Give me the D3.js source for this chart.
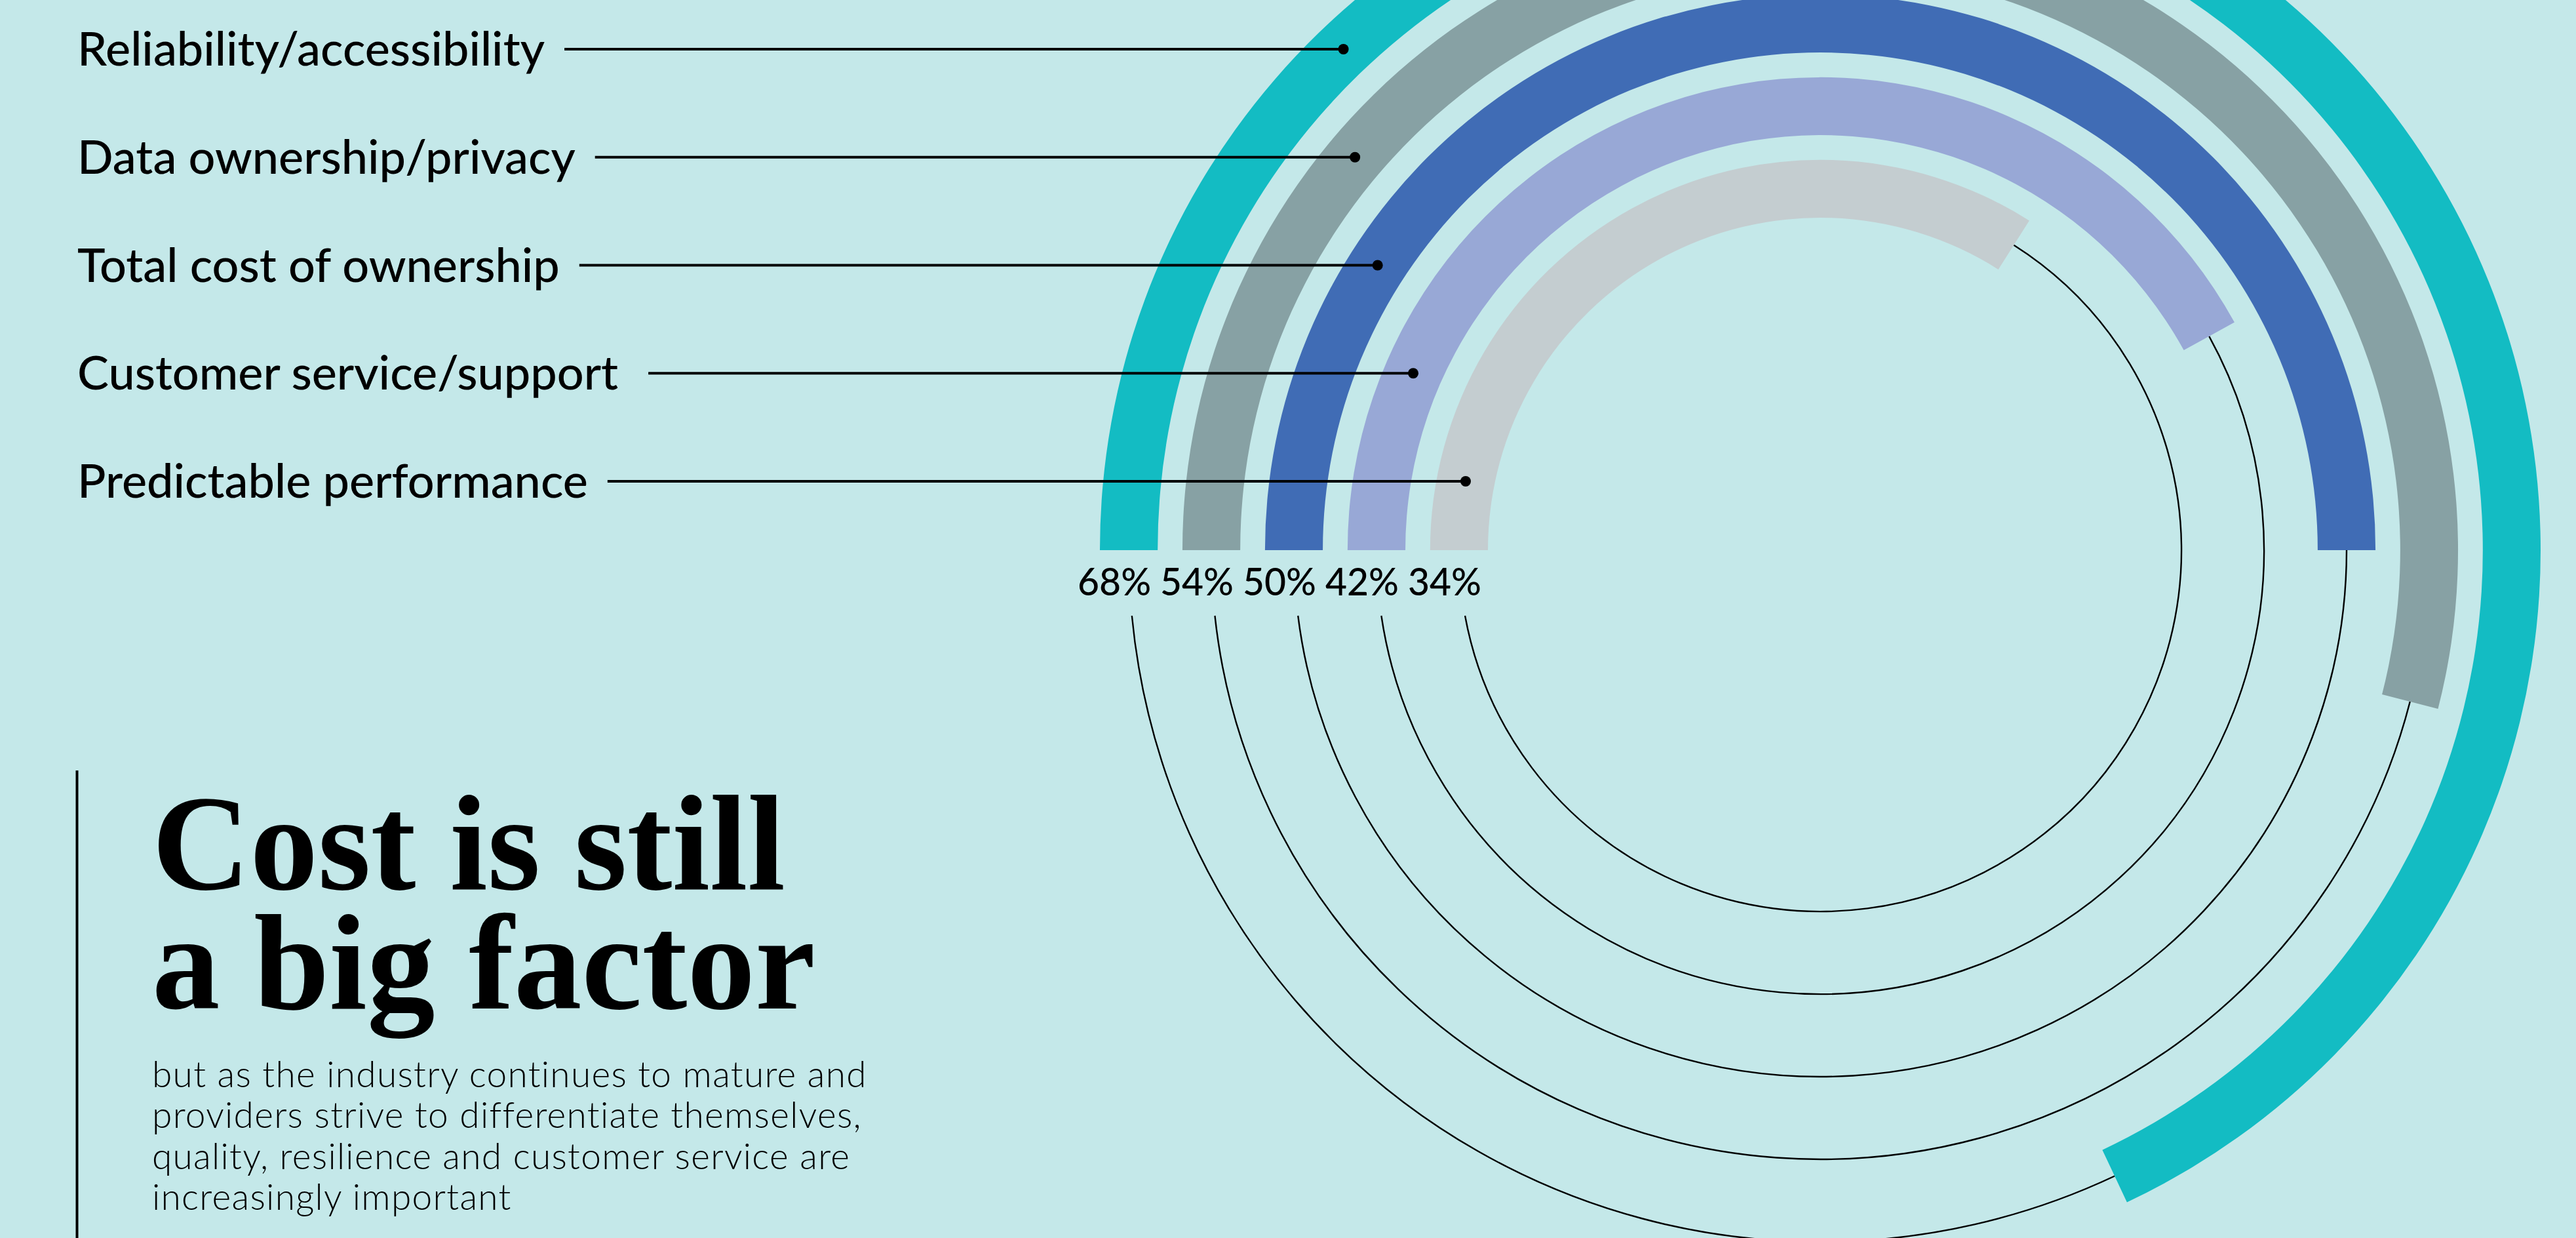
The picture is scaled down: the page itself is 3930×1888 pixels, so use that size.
<!DOCTYPE html>
<html><head><meta charset="utf-8">
<script src="https://cdn.jsdelivr.net/npm/d3@7"></script>
<style>
html,body{margin:0;padding:0;background:#c4e8e9;overflow:hidden;}
svg{display:block;}
</style></head><body>
<svg id="chart" width="3930" height="1888"></svg>
<script>
const categories = ["Reliability/accessibility","Data ownership/privacy","Total cost of ownership","Customer service/support","Predictable performance"];
const values = [68, 54, 50, 42, 34];
const valueLabels = ["68%","54%","50%","42%","34%"];
const colors = ["#13bcc3","#87a1a4","#406cb5","#98a8d6","#c4cdd0"];
const titleLines = ["Cost is still","a big factor"];
const subtitleLines = [
  "but as the industry continues to mature and",
  "providers strive to differentiate themselves,",
  "quality, resilience and customer service are",
  "increasingly important"
];

const W = 3930, H = 1888;
const cx = 2777, cy = 839;
const data = categories.map((c, i) => ({cat: c, value: values[i], label: valueLabels[i], color: colors[i]}));

const svg = d3.select("#chart");
svg.append("rect").attr("width", W).attr("height", H).attr("fill", "#c4e8e9");

const r = d3.scaleBand().domain(categories).range([1099, 507]).paddingInner(0.3).paddingOuter(0);
const bw = r.bandwidth();
const ang = d3.scaleLinear().domain([0, 100]).range([-Math.PI / 2, 1.5 * Math.PI]);
const labelY = d3.scalePoint().domain(categories).range([75, 734]);
const lineStartOffset = 100;

const g = svg.append("g").attr("transform", `translate(${cx},${cy})`);

// thin continuation circles
g.selectAll("path.track").data(data).join("path")
  .attr("class", "track")
  .attr("fill", "none").attr("stroke", "#000").attr("stroke-width", 2.4)
  .attr("d", d => {
    const rm = r(d.cat) + bw / 2;
    const a0 = ang(d.value);
    const a1 = 1.5 * Math.PI - Math.asin(lineStartOffset / rm);
    const p = d3.path();
    p.arc(0, 0, rm, a0 - Math.PI / 2, a1 - Math.PI / 2, false);
    return p.toString();
  });

// bars
const arc = d3.arc()
  .innerRadius(d => r(d.cat))
  .outerRadius(d => r(d.cat) + bw)
  .startAngle(ang(0))
  .endAngle(d => ang(d.value));
g.selectAll("path.bar").data(data).join("path")
  .attr("class", "bar").attr("fill", d => d.color).attr("d", arc);

// value labels
svg.selectAll("text.val").data(data).join("text")
  .attr("class", "val")
  .attr("x", d => cx - r(d.cat) - bw / 2 - 22)
  .attr("y", 908)
  .attr("text-anchor", "middle")
  .attr("font-family", "Lato, sans-serif").attr("font-weight", 500)
  .attr("font-size", 57).attr("fill", "#000")
  .text(d => d.label);

// category labels + leaders
const lg = svg.append("g");
data.forEach((d, i) => {
  const y = labelY(d.cat);
  const t = lg.append("text")
    .attr("x", 118).attr("y", y + 25)
    .attr("font-family", "Lato, sans-serif").attr("font-weight", 500)
    .attr("font-size", 72).attr("fill", "#000")
    .text(d.cat);
  const gap = d.cat.startsWith("Customer") ? 46 : 30;
  const x0 = 118 + t.node().getComputedTextLength() + gap;
  const rm = r(d.cat) + bw / 2;
  const dx = Math.sqrt(rm * rm - (cy - y) * (cy - y));
  const x1 = cx - dx;
  lg.append("line").attr("x1", x0).attr("x2", x1).attr("y1", y).attr("y2", y)
    .attr("stroke", "#000").attr("stroke-width", 4);
  lg.append("circle").attr("cx", x1).attr("cy", y).attr("r", 8).attr("fill", "#000");
});

// left rule
svg.append("line").attr("x1", 117.5).attr("x2", 117.5).attr("y1", 1175).attr("y2", H)
  .attr("stroke", "#000").attr("stroke-width", 4);

// title (one text block, two lines)
const title = svg.append("text")
  .attr("x", 232).attr("y", 1356)
  .attr("font-family", "'Liberation Serif', serif").attr("font-weight", 700)
  .attr("font-size", 207).attr("fill", "#000");
title.selectAll("tspan").data(titleLines).join("tspan")
  .attr("x", 232).attr("dy", (d, i) => i === 0 ? 0 : 182)
  .text(d => d);

// subtitle (one text block)
const sub = svg.append("text")
  .attr("x", 232).attr("y", 1658)
  .attr("font-family", "Lato, sans-serif").attr("font-weight", 300)
  .attr("font-size", 55).attr("letter-spacing", 1.3).attr("fill", "#000");
sub.selectAll("tspan").data(subtitleLines).join("tspan")
  .attr("x", 232).attr("dy", (d, i) => i === 0 ? 0 : 62.3)
  .text(d => d);
</script>
</body></html>
